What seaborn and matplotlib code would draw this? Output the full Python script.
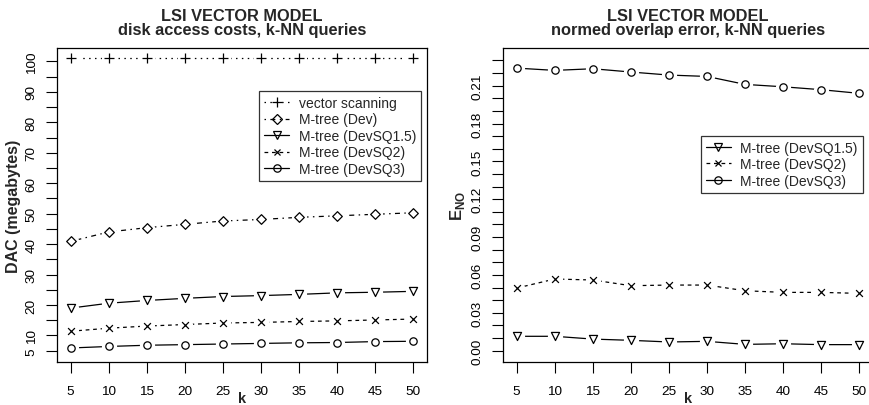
import numpy as np
import matplotlib
matplotlib.use('Agg')
import matplotlib.pyplot as plt
from matplotlib.lines import Line2D
import seaborn as sns

# k values shared by both panels
k = [5, 10, 15, 20, 25, 30, 35, 40, 45, 50]

# left panel: disk access costs (megabytes)
dac_scan = [101, 101, 101, 101, 101, 101, 101, 101, 101, 101]
dac_dev = [40.9, 44.0, 45.4, 46.5, 47.6, 48.1, 48.8, 49.3, 49.8, 50.3]
dac_sq15 = [19.0, 20.6, 21.5, 22.2, 22.8, 23.1, 23.5, 24.0, 24.2, 24.5]
dac_sq2 = [11.4, 12.4, 13.1, 13.6, 14.1, 14.3, 14.6, 14.8, 15.1, 15.4]
dac_sq3 = [5.9, 6.4, 6.8, 7.0, 7.2, 7.4, 7.6, 7.7, 8.0, 8.1]

# right panel: normed overlap error
eno_sq15 = [0.0114, 0.0114, 0.0092, 0.0082, 0.0069, 0.0074, 0.0050, 0.0055, 0.0048, 0.0048]
eno_sq2 = [0.0496, 0.0568, 0.0560, 0.0515, 0.0520, 0.0520, 0.0475, 0.0462, 0.0462, 0.0454]
eno_sq3 = [0.2239, 0.2221, 0.2234, 0.2208, 0.2184, 0.2173, 0.2110, 0.2091, 0.2068, 0.2039]

dac_ticks = list(range(5, 105, 5))
dac_labels = ['5', '10', '', '20', '', '30', '', '40', '', '50', '',
              '60', '', '70', '', '80', '', '90', '', '100']
eno_ticks = [round(0.01 * i, 2) for i in range(24)]
eno_labels = ['%.2f' % t if i % 3 == 0 else '' for i, t in enumerate(eno_ticks)]

names = {
    'scan': 'vector scanning',
    'dev': 'M-tree (Dev)',
    'sq15': 'M-tree (DevSQ1.5)',
    'sq2': 'M-tree (DevSQ2)',
    'sq3': 'M-tree (DevSQ3)',
}
# marker, scatter size, dash pattern
styles = {
    'scan': ('+', 44, (0, (1.2, 3.5))),
    'dev': ('D', 24, (0, (1.2, 3.5, 4, 3.5))),
    'sq15': ('v', 34, '-'),
    'sq2': ('x', 24, (0, (3, 3))),
    'sq3': ('o', 28, '-'),
}

sns.set_theme(style='ticks')
plt.rcParams['font.family'] = ['Liberation Sans', 'DejaVu Sans']
plt.rcParams['mathtext.fontset'] = 'custom'
plt.rcParams['mathtext.bf'] = 'Liberation Sans:bold'
plt.rcParams['mathtext.rm'] = 'Liberation Sans'

fig = plt.figure(figsize=(8.69, 4.06), dpi=100)
W, H = 869, 406
ax1 = fig.add_axes([57 / W, 1 - 363.3 / H, 370 / W, 314 / H])
ax2 = fig.add_axes([503 / W, 1 - 363.3 / H, 370 / W, 314 / H])


def draw(ax, y, key):
    marker, size, ls = styles[key]
    sns.lineplot(x=k, y=y, ax=ax, color='black', linewidth=0.9,
                 linestyle=ls, zorder=2)
    sns.scatterplot(x=k, y=y, ax=ax, s=120, marker='o', color='white',
                    edgecolor='white', linewidth=0, zorder=3)
    if marker in ('+', 'x'):
        sns.scatterplot(x=k, y=y, ax=ax, s=size, marker=marker,
                        color='black', linewidth=0.9, zorder=4)
    else:
        sns.scatterplot(x=k, y=y, ax=ax, s=size, marker=marker,
                        facecolor='white', edgecolor='black',
                        linewidth=0.9, zorder=4)


def handle(key):
    marker, size, ls = styles[key]
    return Line2D([], [], color='black', linewidth=0.9, linestyle=ls,
                  marker=marker, markersize=np.sqrt(size),
                  markerfacecolor='none', markeredgecolor='black',
                  markeredgewidth=0.9)


for key, y in [('scan', dac_scan), ('dev', dac_dev), ('sq15', dac_sq15),
               ('sq2', dac_sq2), ('sq3', dac_sq3)]:
    draw(ax1, y, key)
for key, y in [('sq15', eno_sq15), ('sq2', eno_sq2), ('sq3', eno_sq3)]:
    draw(ax2, y, key)

titles = ['disk access costs, k-NN queries', 'normed overlap error, k-NN queries']
for ax, sub in zip([ax1, ax2], titles):
    ax.set_xlim(3.2, 51.8)
    ax.set_xticks(k)
    ax.tick_params(axis='x', direction='out', length=8, width=0.8,
                   pad=8, labelsize=9.7, color='black', labelcolor='black')
    ax.tick_params(axis='y', direction='out', length=8, width=0.8,
                   pad=6, labelsize=9.7, color='black', labelcolor='black')
    for s in ax.spines.values():
        s.set_visible(True)
        s.set_linewidth(0.9)
        s.set_color('black')
    ax.text(0.5, 1.091, 'LSI VECTOR MODEL', transform=ax.transAxes,
            ha='center', va='baseline', fontsize=11.8, fontweight='bold')
    ax.text(0.5, 1.047, sub, transform=ax.transAxes,
            ha='center', va='baseline', fontsize=11.8, fontweight='bold')
    ax.set_xlabel('k', fontsize=10.5, fontweight='bold', labelpad=-4)

ax1.set_ylim(1.2, 104.3)
ax1.set_yticks(dac_ticks)
ax1.set_yticklabels(dac_labels, rotation=90, va='center')
ax1.set_ylabel('DAC (megabytes)', fontsize=11.5, fontweight='bold', labelpad=3)

ax2.set_ylim(-0.0092, 0.2396)
ax2.set_yticks(eno_ticks)
ax2.set_yticklabels(eno_labels, rotation=90, va='center')
ax2.set_ylabel(r'$\mathbf{E}_{\mathbf{NO}}$', fontsize=12, labelpad=3)

leg_kw = dict(frameon=True, fancybox=False, shadow=False, fontsize=10,
              handlelength=1.8, handletextpad=0.7, labelspacing=0.18,
              borderpad=0.35, borderaxespad=0, edgecolor='black')

keys1 = ['scan', 'dev', 'sq15', 'sq2', 'sq3']
l1 = ax1.legend([handle(c) for c in keys1], [names[c] for c in keys1],
                loc='upper right', bbox_to_anchor=(0.984, 0.864), **leg_kw)
keys2 = ['sq15', 'sq2', 'sq3']
l2 = ax2.legend([handle(c) for c in keys2], [names[c] for c in keys2],
                loc='upper right', bbox_to_anchor=(0.972, 0.721), **leg_kw)
for lg in (l1, l2):
    lg.get_frame().set_linewidth(0.9)

fig.savefig('out.png', dpi=100)
